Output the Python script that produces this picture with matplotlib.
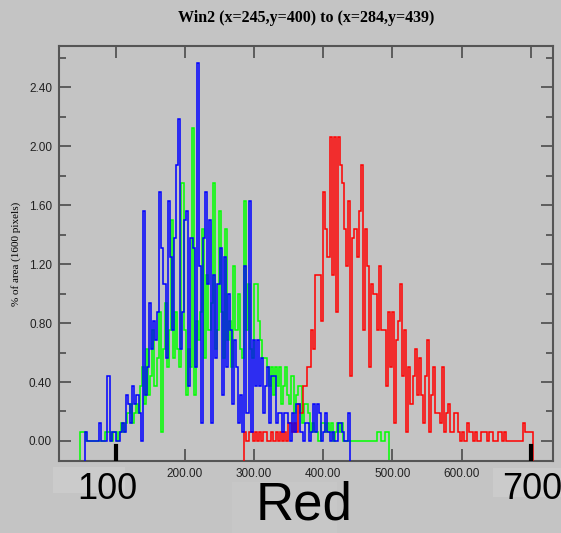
import numpy as np
import matplotlib
matplotlib.use('Agg')
import matplotlib.pyplot as plt
from matplotlib.patches import Rectangle
from matplotlib.ticker import MultipleLocator, FuncFormatter

# Histogram counts per bin (pixels out of 1600), bins are 3 units wide
bin_width = 3
green_start = 48
green_counts = [1, 1, 1, 0, 0, 0, 0, 0, 0, 0, 0, 0, 1, 1, 1, 0, 1, 1, 0, 1,
                2, 1, 2, 3, 4, 2, 3, 4, 3, 6, 8, 4, 10, 5, 7, 12, 6, 9, 14, 1,
                10, 15, 8, 12, 24, 9, 14, 10, 8, 28, 12, 5, 10, 8, 34, 5, 13, 11, 14, 23,
                9, 18, 12, 15, 28, 10, 12, 25, 14, 9, 23, 11, 13, 8, 19, 12, 16, 10, 9, 26,
                12, 17, 10, 9, 17, 17, 13, 11, 9, 9, 8, 6, 8, 5, 8, 6, 8, 4, 6, 8,
                5, 4, 7, 3, 5, 6, 6, 2, 4, 4, 3, 1, 2, 1, 1, 0, 2, 2, 1, 2,
                1, 2, 0, 1, 2, 1, 2, 0, 0, 0, 0, 0, 0, 0, 0, 0, 0, 0, 0, 0,
                0, 0, 0, 1, 1, 0, 0, 1, 1]
blue_start = 55
blue_counts = [1, 0, 0, 0, 0, 0, 0, 2, 0, 0, 0, 7, 0, 1, 1, 0, 0, 1, 2, 1,
               5, 4, 2, 6, 4, 5, 3, 0, 25, 5, 8, 15, 10, 13, 11, 14, 27, 21, 17, 9,
               26, 20, 12, 22, 30, 35, 10, 14, 24, 25, 6, 22, 21, 8, 41, 19, 2, 22, 27, 17,
               24, 2, 18, 9, 17, 21, 5, 20, 8, 16, 12, 4, 11, 8, 2, 5, 1, 19, 3, 26,
               1, 11, 6, 11, 6, 9, 3, 6, 8, 2, 7, 7, 2, 3, 3, 1, 3, 3, 2, 0,
               3, 1, 4, 4, 1, 0, 2, 2, 0, 1, 4, 1, 4, 3, 0, 1, 3, 1, 0, 1,
               0, 0, 2, 2, 1, 0, 0, 3]
red_start = 286
red_counts = [1, 0, 1, 1, 0, 1, 0, 1, 0, 1, 1, 0, 0, 1, 0, 1, 0, 1, 0, 1,
              0, 2, 2, 1, 2, 1, 4, 3, 6, 6, 8, 8, 12, 10, 18, 18, 18, 13, 27, 23,
              20, 33, 18, 33, 14, 33, 30, 28, 23, 19, 26, 7, 22, 23, 20, 25, 30, 12, 23, 19,
              8, 17, 16, 16, 12, 19, 12, 12, 6, 14, 8, 14, 2, 11, 13, 17, 7, 12, 1, 8,
              4, 7, 10, 5, 9, 5, 2, 7, 11, 1, 5, 8, 3, 3, 2, 8, 1, 3, 4, 1,
              1, 3, 3, 1, 0, 1, 0, 2, 1, 1, 0, 1, 0, 0, 1, 1, 1, 0, 1, 1,
              0, 0, 1, 1, 0, 1, 0, 0, 0, 0, 0, 0, 0, 0, 2, 1, 1, 1, 1]

total_pixels = 1600
markers = [100, 700]
title = 'Win2 (x=245,y=400) to (x=284,y=439)'

bg = '#c4c4c4'
axis_col = '#555555'
W, H = 561, 533

fig = plt.figure(figsize=(W / 100, H / 100), dpi=100, facecolor=bg)
ax = fig.add_axes([59 / W, 1 - 461 / H, (553 - 59) / W, (461 - 46) / H])
ax.set_facecolor(bg)

ymin, ymax = -0.136, 2.68
ax.set_xlim(18, 732)
ax.set_ylim(ymin, ymax)


def draw(start, counts, color, z):
    vals = np.array(counts) / total_pixels * 100
    edges = start + bin_width * np.arange(len(vals) + 1)
    ax.stairs(vals, edges, baseline=ymin, color=color, lw=1.1, zorder=z)


draw(green_start, green_counts, '#00ff00', 2)
draw(red_start, red_counts, '#ff0000', 3)
draw(blue_start, blue_counts, '#0000ff', 4)

# slider markers
for m in markers:
    ax.axvline(m, ymin=0, ymax=0.035, color='black', lw=3, zorder=5)

for s in ax.spines.values():
    s.set_color(axis_col)
    s.set_linewidth(1.5)

ax.xaxis.set_major_locator(MultipleLocator(100))
ax.yaxis.set_major_locator(MultipleLocator(0.4))
ax.yaxis.set_minor_locator(MultipleLocator(0.2))
# the x labels under the slider markers are covered by the marker boxes
ax.xaxis.set_major_formatter(FuncFormatter(
    lambda v, p: '' if round(v) in markers else f'{v:.2f}'))
ax.yaxis.set_major_formatter(FuncFormatter(lambda v, p: f'{v:.2f}'))
ax.tick_params(which='both', direction='in', top=True, right=True,
               color=axis_col, width=1.3)
ax.tick_params(which='major', length=8.5, pad=5, labelsize=8.5)
ax.tick_params(which='minor', length=5)
ax.tick_params(axis='x', which='minor', bottom=False, top=False)
for lab in ax.get_xticklabels() + ax.get_yticklabels():
    lab.set_fontfamily('Liberation Sans')
    lab.set_color('#222222')

ax.set_ylabel('% of area (1600 pixels)', family='Liberation Serif',
              fontsize=8, labelpad=6)
fig.text(306 / W, 1 - 18 / H, title, ha='center', va='center',
         family='Liberation Serif', weight='bold', fontsize=11.5)

# overlay labels at the bottom
for (x0, y0, x1, y1), col in [((53, 467, 125, 493), '#cbcbcb'),
                              ((493, 468, 561, 497), '#cbcbcb'),
                              ((232, 482, 337, 533), '#c7c7c7')]:
    fig.add_artist(Rectangle((x0 / W, 1 - y1 / H), (x1 - x0) / W, (y1 - y0) / H,
                             transform=fig.transFigure, color=col, lw=0))
fig.text(107 / W, 1 - 499 / H, '100', ha='center', va='baseline',
         family='Liberation Sans', fontsize=26)
fig.text(532 / W, 1 - 499 / H, '700', ha='center', va='baseline',
         family='Liberation Sans', fontsize=26)
fig.text(304 / W, 1 - 520 / H, 'Red', ha='center', va='baseline',
         family='Liberation Sans', fontsize=38)

fig.savefig('out.png', dpi=100, facecolor=bg)
